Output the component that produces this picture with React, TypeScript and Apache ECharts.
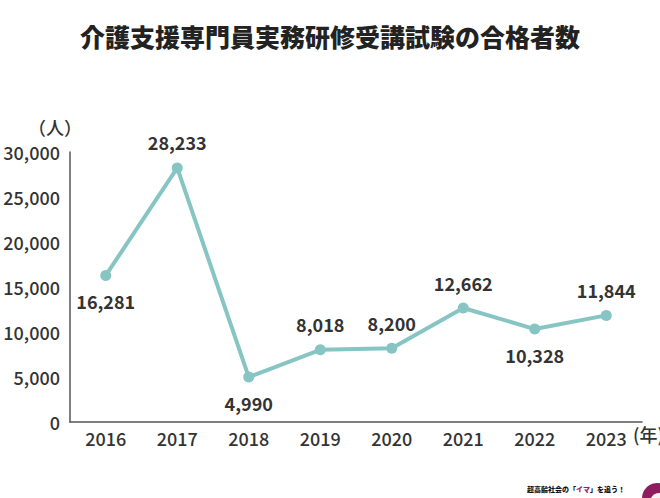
import React, { useEffect, useRef } from "react";
import * as echarts from "echarts";

const years = ["2016", "2017", "2018", "2019", "2020", "2021", "2022", "2023"];
const passers = [16281, 28233, 4990, 8018, 8200, 12662, 10328, 11844];
const labelPositions = ["bottom", "top", "bottom", "top", "top", "top", "bottom", "top"];
const yTicks = [0, 5000, 10000, 15000, 20000, 25000, 30000];

const FONT = "'Noto Sans CJK JP', 'Noto Sans', sans-serif";

export default function App() {
  const ref = useRef<HTMLDivElement>(null);
  useEffect(() => {
    document.body.style.margin = "0";
    if (!ref.current) return;
    const chart = echarts.init(ref.current, undefined, { renderer: "svg" });
    chart.setOption({
      animation: false,
      backgroundColor: "#ffffff",
      textStyle: { fontFamily: FONT },
      title: {
        text: "介護支援専門員実務研修受講試験の合格者数",
        left: "center",
        top: 18,
        textStyle: { fontFamily: FONT, fontSize: 25, fontWeight: 900, color: "#222222" },
      },
      grid: { left: 70, right: 18, top: 152, bottom: 76 },
      xAxis: {
        type: "category",
        data: years,
        boundaryGap: true,
        axisLine: { show: true, lineStyle: { color: "#555555", width: 1.5 } },
        axisTick: { show: false },
        axisLabel: { color: "#333333", fontSize: 18, fontWeight: 500, margin: 7, fontFamily: FONT },
        splitLine: { show: false },
      },
      yAxis: {
        type: "value",
        min: yTicks[0],
        max: yTicks[yTicks.length - 1],
        interval: 5000,
        axisLine: { show: true, lineStyle: { color: "#555555", width: 1.5 } },
        axisTick: { show: false },
        splitLine: { show: false },
        axisLabel: {
          color: "#333333",
          fontSize: 18,
          fontWeight: 500,
          margin: 10,
          fontFamily: FONT,
          formatter: (v: number) => v.toLocaleString("en-US"),
        },
      },
      series: [
        {
          type: "line",
          data: passers.map((v, i) => ({
            value: v,
            label: { position: labelPositions[i] },
          })),
          lineStyle: { color: "#86c5c3", width: 4 },
          itemStyle: { color: "#86c5c3" },
          symbol: "circle",
          symbolSize: 11,
          label: {
            show: true,
            distance: 11,
            color: "#333333",
            fontSize: 18,
            fontWeight: "bold",
            fontFamily: FONT,
            formatter: (p: any) => Number(p.value).toLocaleString("en-US"),
          },
        },
      ],
      graphic: [
        {
          type: "text",
          left: 28,
          top: 118,
          style: { text: "（人）", fontSize: 18, fontWeight: 500, fill: "#333333", fontFamily: FONT },
        },
        {
          type: "text",
          left: 633,
          top: 425,
          style: { text: "(年)", fontSize: 18, fontWeight: 500, fill: "#333333", fontFamily: FONT },
        },
        {
          type: "text",
          left: 527,
          top: 485,
          style: {
            rich: {
              a: { fontSize: 7, fontWeight: 900, fill: "#111111", fontFamily: FONT },
              b: { fontSize: 7, fontWeight: 900, fill: "#a0206a", fontFamily: FONT },
            },
            text: "{a|超高齢社会の「}{b|イマ}{a|」を追う！}",
          },
        },
        {
          type: "circle",
          shape: { cx: 657, cy: 498, r: 15 },
          style: { fill: "#8e1d5f" },
        },
        {
          type: "circle",
          shape: { cx: 659, cy: 502, r: 9 },
          style: { fill: "#f4f4f4" },
        },
      ],
    });
    return () => chart.dispose();
  }, []);
  return <div ref={ref} style={{ width: 660, height: 498 }} />;
}
